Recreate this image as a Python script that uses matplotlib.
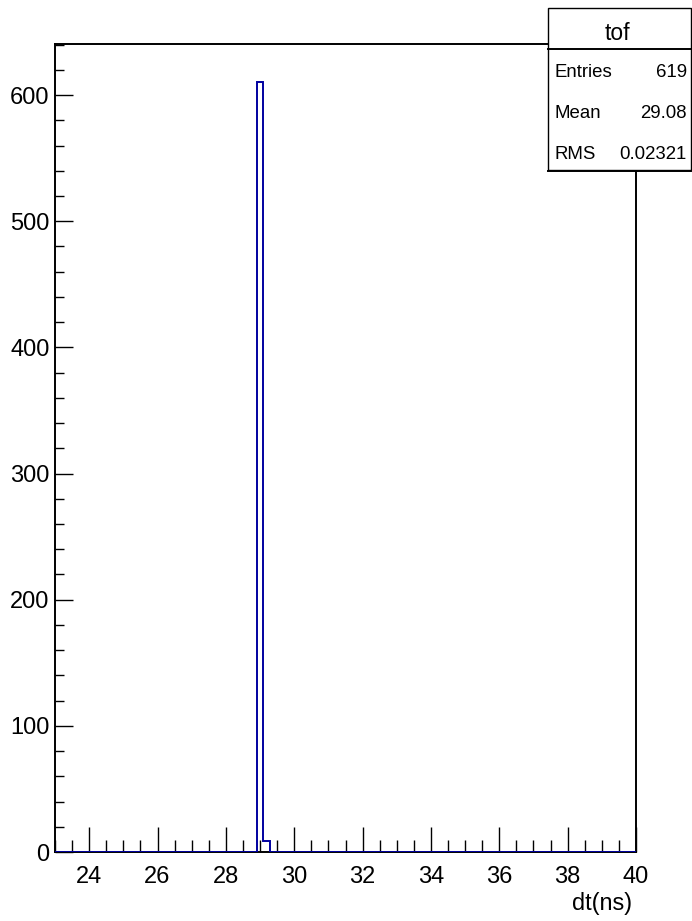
import matplotlib
matplotlib.use("Agg")
import matplotlib.pyplot as plt
from matplotlib.patches import Rectangle
from matplotlib.lines import Line2D
from matplotlib.ticker import MultipleLocator

plt.rcParams['font.family'] = ['Liberation Sans', 'DejaVu Sans']

# ---- data ----
bin_edges = [23.0, 28.9, 29.1, 29.3, 40.0]
counts = [0, 610, 9, 0]
hist_name = "tof"
stat_labels = ["Entries", "Mean", "RMS"]
stat_values = ["619", "29.08", "0.02321"]
x_label = "dt(ns)"

W, H = 692, 921
fig = plt.figure(figsize=(W / 100, H / 100), dpi=100)

def fx(px):
    return px / W

def fy(py):
    return 1 - py / H

ax = fig.add_axes([fx(55), fy(852), fx(636) - fx(55), fy(44) - fy(852)])
ax.stairs(counts, bin_edges, color='#0000a0', linewidth=1.4, zorder=3)
ax.set_xlim(23, 40)
ax.set_ylim(0, 640.5)

ax.xaxis.set_major_locator(MultipleLocator(2))
ax.xaxis.set_minor_locator(MultipleLocator(0.5))
ax.yaxis.set_major_locator(MultipleLocator(100))
ax.yaxis.set_minor_locator(MultipleLocator(20))

ax.tick_params(axis='x', which='major', direction='in', length=17.8, width=1.0,
               labelsize=17, pad=10)
ax.tick_params(axis='x', which='minor', direction='in', length=8.6, width=1.0)
ax.tick_params(axis='y', which='major', direction='in', length=12.7, width=1.0,
               labelsize=17, pad=4)
ax.tick_params(axis='y', which='minor', direction='in', length=6.7, width=1.0)
ax.tick_params(top=False, right=False, which='both')
for s in ax.spines.values():
    s.set_linewidth(1.4)

fig.text(fx(632), fy(910), x_label, ha='right', va='baseline', fontsize=16.9)

# ---- stats box ----
bx0, bx1, by0, by1 = 548, 691, 8.5, 170
box = Rectangle((fx(bx0), fy(by1)), fx(bx1) - fx(bx0), fy(by0) - fy(by1),
                transform=fig.transFigure, facecolor='white', edgecolor='black',
                linewidth=1.0, zorder=10)
fig.patches.append(box)
fig.lines.append(Line2D([fx(bx0), fx(bx1)], [fy(49), fy(49)], transform=fig.transFigure,
                        color='black', linewidth=1.4, zorder=11))
fig.lines.append(Line2D([fx(bx0), fx(bx1)], [fy(171), fy(171)], transform=fig.transFigure,
                        color='black', linewidth=1.4, zorder=11))

fig.text(fx(617), fy(40), hist_name, ha='center', va='baseline', fontsize=16.5, zorder=12)
baselines = [77.3, 118.3, 159.3]
for lab, val, b in zip(stat_labels, stat_values, baselines):
    fig.text(fx(554), fy(b), lab, ha='left', va='baseline', fontsize=13.4, zorder=12)
    fig.text(fx(687), fy(b), val, ha='right', va='baseline', fontsize=13.4, zorder=12)

fig.savefig("out.png", dpi=100)
